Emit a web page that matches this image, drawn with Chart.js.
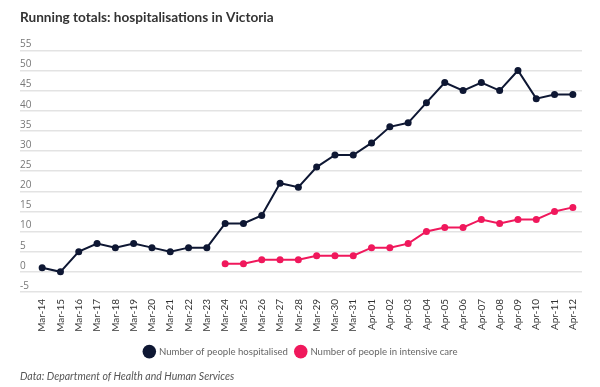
<!DOCTYPE html>
<html>
<head>
<meta charset="utf-8">
<script src="https://cdn.jsdelivr.net/npm/chart.js@4.4.1/dist/chart.umd.min.js"></script>
<style>
  html, body { margin: 0; padding: 0; background: #fff; }
  #wrap { width: 600px; height: 387px; position: relative; }
</style>
</head>
<body>
<div id="wrap"><canvas id="hospChart"></canvas></div>
<script>
// Dates (x axis)
const labels = ["Mar-14", "Mar-15", "Mar-16", "Mar-17", "Mar-18", "Mar-19", "Mar-20", "Mar-21", "Mar-22", "Mar-23",
    "Mar-24", "Mar-25", "Mar-26", "Mar-27", "Mar-28", "Mar-29", "Mar-30", "Mar-31", "Apr-01", "Apr-02",
    "Apr-03", "Apr-04", "Apr-05", "Apr-06", "Apr-07", "Apr-08", "Apr-09", "Apr-10", "Apr-11", "Apr-12"];

// Running totals
const hospitalised = [1, 0, 5, 7, 6, 7, 6, 5, 6, 6,
    12, 12, 14, 22, 21, 26, 29, 29, 32, 36,
    37, 42, 47, 45, 47, 45, 50, 43, 44, 44];
const intensiveCare = [null, null, null, null, null, null, null, null, null, null,
    2, 2, 3, 3, 3, 4, 4, 4, 6, 6,
    7, 10, 11, 11, 13, 12, 13, 13, 15, 16];

const yMin = -5, yMax = 55, yStep = 5;

const navy = "#0e1733";
const pink = "#f0185c";

document.addEventListener('DOMContentLoaded', function() {
    const data = {
        labels: labels,
        datasets: [{
            label: "Number of people hospitalised",
            data: hospitalised,
            borderColor: navy,
            backgroundColor: navy,
            pointBackgroundColor: navy,
            borderWidth: 2,
            pointRadius: 3.5,
            pointBorderWidth: 0,
            tension: 0
        }, {
            label: "Number of people in intensive care",
            data: intensiveCare,
            borderColor: pink,
            backgroundColor: pink,
            pointBackgroundColor: pink,
            borderWidth: 2,
            pointRadius: 3.5,
            pointBorderWidth: 0,
            tension: 0
        }]
    };

    const config = {
        type: "line",
        data: data,
        options: {
            responsive: true,
            maintainAspectRatio: false,
            animation: false,
            layout: { padding: { left: 20, right: 18, top: 4, bottom: 0 } },
            scales: {
                x: {
                    offset: true,
                    grid: { display: false, drawTicks: false },
                    border: { display: false },
                    ticks: {
                        minRotation: 90,
                        maxRotation: 90,
                        autoSkip: false,
                        padding: 7,
                        color: "#333",
                        font: { family: "Lato", size: 10 }
                    }
                },
                y: {
                    min: yMin,
                    max: yMax,
                    afterFit: function(scale) { scale.width = 13; },
                    grid: { color: "#e3e3e3", lineWidth: 1.5, tickLength: 13 },
                    border: { display: false },
                    ticks: {
                        stepSize: yStep,
                        crossAlign: "far",
                        labelOffset: -6,
                        color: "#777",
                        font: { family: "Open Sans", size: 10 }
                    }
                }
            },
            plugins: {
                title: {
                    display: true,
                    text: "Running totals: hospitalisations in Victoria",
                    align: "start",
                    color: "#333",
                    font: { family: "Lato", size: 13.6, weight: "bold" },
                    padding: { top: 5, bottom: 25 }
                },
                subtitle: {
                    display: true,
                    position: "bottom",
                    text: "Data: Department of Health and Human Services",
                    align: "start",
                    color: "#555",
                    font: { family: "Lato", size: 10.5, style: "italic" },
                    padding: { top: 4, bottom: 4 }
                },
                legend: {
                    position: "bottom",
                    labels: {
                        usePointStyle: true,
                        pointStyle: "circle",
                        boxWidth: 12,
                        boxHeight: 12,
                        padding: 8,
                        color: "#666",
                        font: { family: "Lato", size: 9.6 }
                    }
                },
                tooltip: { enabled: false }
            }
        }
    };

    const ctx = document.getElementById("hospChart");
    if (ctx) {
        const hospChart = new Chart(ctx, config);
    }
});
</script>
</body>
</html>
